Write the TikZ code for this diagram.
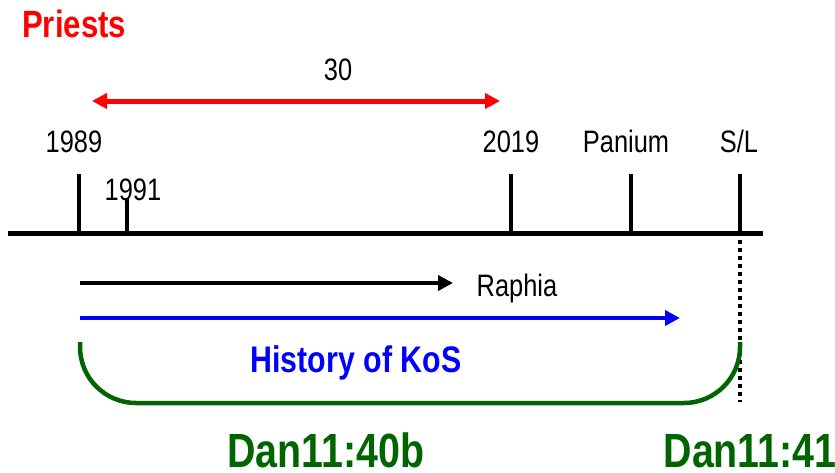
\documentclass[tikz,border=0pt]{standalone}
\usepackage{fontspec}
\usetikzlibrary{arrows.meta}
\setmainfont[FakeStretch=0.82]{Liberation Sans}
\definecolor{dgreen}{RGB}{0,100,0}
\begin{document}
\begin{tikzpicture}[x=1pt,y=-1pt,
  lbl/.style={inner sep=0pt,font=\fontsize{31}{31}\selectfont,anchor=base},
  tick/.style={line width=4pt},
  arr/.style={line width=4pt,-{Triangle[length=15pt,width=15pt]}},
  big/.style={inner sep=0pt,anchor=base,text depth=0pt,font=\fontsize{48}{48}\selectfont\bfseries,text=dgreen}]
\useasboundingbox (0,0) rectangle (835,472);
\node[inner sep=0pt,anchor=base west,text=red,font=\fontsize{38}{38}\selectfont\bfseries] (priests) at (22,37) {Priests};
\node[lbl] (thirty) at (338,80) {30};
\coordinate (rl) at (92,101);
\coordinate (rr) at (500,101);
\draw[red,line width=5pt,{Triangle[length=15pt,width=15pt]}-{Triangle[length=15pt,width=15pt]}] (rl) -- (rr);
\node[lbl] (y1989) at (74,152) {1989};
\node[lbl] (y2019) at (511,152) {2019};
\node[lbl] (panium) at (626,152) {Panium};
\node[lbl] (sl) at (739,152) {S/L};
\coordinate (t0) at (8,233);
\coordinate (t1) at (763,233);
\draw[line width=5pt] (t0) -- (t1);
\coordinate (a1) at (79,174); \coordinate (a0) at (79,233);
\coordinate (b1) at (127,199); \coordinate (b0) at (127,233);
\coordinate (c1) at (511,174); \coordinate (c0) at (511,233);
\coordinate (d1) at (631,174); \coordinate (d0) at (631,233);
\coordinate (e1) at (740,174); \coordinate (e0) at (740,233);
\foreach \p in {a,b,c,d,e} \draw[tick] (\p1) -- (\p0);
\node[lbl] (y1991) at (133,200) {1991};
\coordinate (dtop) at (740,240);
\coordinate (dbot) at (740,402);
\draw[line width=4pt,dash pattern=on 4pt off 4pt] (dtop) -- (dbot);
\coordinate (k0) at (80,283); \coordinate (k1) at (453,283);
\draw[arr] (k0) -- (k1);
\node[lbl] (raphia) at (517,296) {Raphia};
\coordinate (u0) at (80,318); \coordinate (u1) at (680,318);
\draw[arr,blue] (u0) -- (u1);
\node[lbl,text=blue,font=\fontsize{37}{37}\selectfont\bfseries] (kos) at (356,372) {History of KoS};
\coordinate (g0) at (80,342); \coordinate (g1) at (740,342);
\draw[dgreen,line width=4.5pt,rounded corners=56pt] (g0) -- (80,403) -- (740,403) -- (g1);
\node[big] (d40) at (326,467) {Dan11:40b};
\node[big] (d41) at (750,467) {Dan11:41};
\end{tikzpicture}
\end{document}
